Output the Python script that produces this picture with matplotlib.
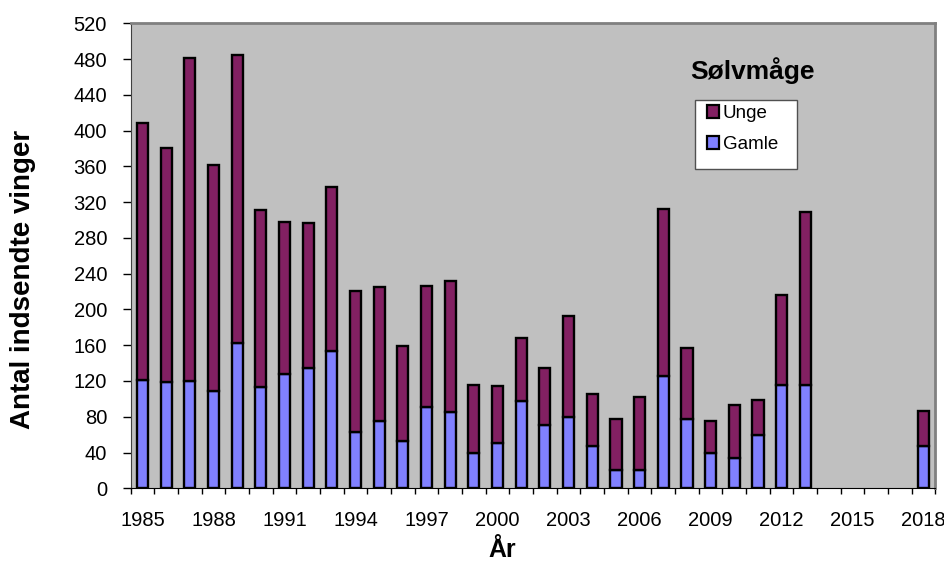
import matplotlib
matplotlib.use('Agg')
import matplotlib.pyplot as plt
from matplotlib.patches import Rectangle, Patch
from matplotlib.ticker import FixedLocator
import numpy as np

plt.rcParams['font.family'] = ['Liberation Sans', 'DejaVu Sans']

# data
years = list(range(1985, 2019))
gamle = [121, 119, 120, 109, 163, 113, 128, 135, 153, 63,
         75, 53, 91, 85, 40, 51, 98, 71, 80, 47,
         21, 21, 126, 78, 39, 34, 60, 116, 115, 0,
         0, 0, 0, 47]
unge = [288, 261, 361, 253, 322, 198, 170, 162, 184, 158,
        150, 106, 135, 147, 76, 63, 70, 64, 113, 58,
        56, 81, 186, 79, 36, 59, 39, 100, 194, 0,
        0, 0, 0, 39]
tick_years = list(range(1985, 2019, 3))
y_ticks = list(range(0, 521, 40))

W, H = 945, 566
fig = plt.figure(figsize=(W / 100, H / 100), dpi=100)
left, right, top, bottom = 130.7, 935.5, 23.3, 488.3
ax = fig.add_axes([left / W, 1 - bottom / H, (right - left) / W, (bottom - top) / H])
ax.set_facecolor('#C0C0C0')

x = np.arange(len(years))
# no outline on the empty years
lw_g = [1.7 if v > 0 else 0 for v in gamle]
lw_u = [1.7 if v > 0 else 0 for v in unge]
ax.bar(x, gamle, width=0.47, color='#8080FF', edgecolor='black', linewidth=lw_g,
       label='Gamle', zorder=3)
ax.bar(x, unge, width=0.47, bottom=gamle, color='#822062', edgecolor='black',
       linewidth=lw_u, label='Unge', zorder=3)

ax.set_xlim(-0.5, len(years) - 0.5)
ax.set_ylim(0, 520)

ax.yaxis.set_major_locator(FixedLocator(y_ticks))
ax.tick_params(axis='y', direction='out', length=6, width=1, pad=11, labelsize=14.5)

pos = [years.index(t) for t in tick_years]
ax.set_xticks(pos)
ax.set_xticklabels([str(t) for t in tick_years])
ax.set_xticks(np.arange(-0.5, len(years), 1), minor=True)
ax.tick_params(axis='x', which='major', length=0, pad=16, labelsize=14.5)
ax.tick_params(axis='x', which='minor', direction='out', length=4, width=1)

for s in ['top', 'right']:
    ax.spines[s].set_color('#808080')
    ax.spines[s].set_linewidth(2)
ax.spines['left'].set_color('#404040')
ax.spines['bottom'].set_color('black')

fig.text(23 / W, 1 - 279 / H, 'Antal indsendte vinger', rotation=90,
         ha='center', va='center', fontsize=20, fontweight='bold')
fig.text(502 / W, 1 - 550 / H, 'År', ha='center', va='center',
         fontsize=18, fontweight='bold')
fig.text(752 / W, 1 - 71 / H, 'Sølvmåge', ha='center', va='center',
         fontsize=19, fontweight='bold')

# legend box
box = Rectangle((695 / W, 1 - 169 / H), 102 / W, 69 / H,
                transform=fig.transFigure, facecolor='white',
                edgecolor='#505050', linewidth=1, zorder=4, clip_on=False)
ax.add_patch(box)
handles = [Patch(facecolor='#822062', edgecolor='black', linewidth=1.6),
           Patch(facecolor='#8080FF', edgecolor='black', linewidth=1.6)]
leg = ax.legend(handles, ['Unge', 'Gamle'], loc='upper left',
                bbox_to_anchor=(707 / W, 1 - 105 / H), bbox_transform=fig.transFigure,
                frameon=False, borderpad=0, borderaxespad=0, fontsize=13.5,
                handlelength=0.65, handleheight=0.65, handletextpad=0.2,
                labelspacing=0.75)
leg.set_zorder(5)

fig.savefig('out.png', dpi=100)
